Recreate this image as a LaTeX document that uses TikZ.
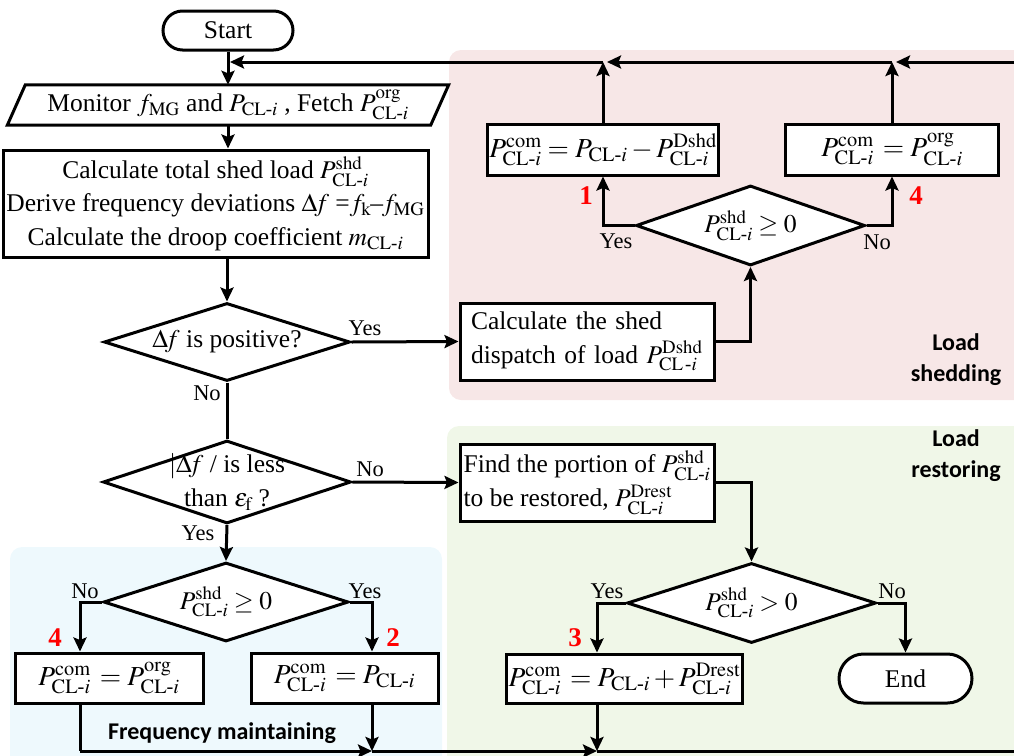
\documentclass[tikz,border=0pt]{standalone}
\usepackage{amsmath}
\usepackage{mathptmx}
\usepackage{fontspec}
\setmainfont{Liberation Serif}
\newfontfamily\labelsans{Carlito}
\usetikzlibrary{shapes.geometric,shapes.misc,arrows.meta,calc}

\definecolor{shedbg}{RGB}{247,231,231}
\definecolor{restbg}{RGB}{240,247,232}
\definecolor{maintbg}{RGB}{238,249,253}

% subscript CL-i and the load power symbols
\newcommand{\cli}{\mathrm{CL}\text{-}i}
\newcommand{\clisp}{\mathrm{CL}\,\text{-}i}
\newcommand{\PCL}[1]{P^{\mathrm{#1}}_{\cli}}
\newcommand{\Pcl}{P_{\cli}}
\newcommand{\df}{\Delta\!f}

\tikzset{
  proc/.style={draw, line width=3pt, fill=white, rectangle, inner sep=2pt, align=center},
  term/.style={draw, line width=3pt, fill=white, rounded rectangle, inner sep=2pt},
  dec/.style={draw, line width=3pt, fill=white, diamond, inner sep=0pt, aspect=3},
  plain/.style={inner sep=0pt, align=center},
  formula/.style={font=\fontsize{27.5}{33}\selectfont},
  arr/.style={line width=3pt, -{Stealth[length=14pt,width=13pt,inset=2.5pt]}},
  link/.style={line width=3pt},
  yn/.style={font=\fontsize{22.5}{26}\selectfont, inner sep=0pt},
  tag/.style={font=\fontsize{27}{28}\selectfont\bfseries, text=red, inner sep=0pt},
  zone/.style={font=\fontsize{24}{31}\selectfont\labelsans\bfseries, align=center, inner sep=0pt},
}

\begin{document}
\begin{tikzpicture}[x=1pt, y=-1pt, font=\fontsize{25.5}{33.5}\selectfont]
\useasboundingbox (0,0) rectangle (1014,755);

% stage backgrounds
\fill[shedbg, rounded corners=12pt] (449,50) rectangle (1040,400);
\fill[restbg, rounded corners=12pt] (447,426) rectangle (1040,780);
\fill[maintbg, rounded corners=12pt] (10,547) rectangle (442,780);

% main column
\node[term, minimum width=134, minimum height=39] (start) at (228,30.5) {Start};
\node[plain, minimum width=441, minimum height=40] (mon) at (228,105)
  {Monitor $f_{\mathrm{MG}}$ and $\Pcl$ , Fetch $\PCL{org}$};
\draw[line width=3pt]
  ($(mon.north west)+(18,0)$) -- (mon.north east) -- ($(mon.south east)-(18,0)$) -- (mon.south west) -- cycle;

\node[proc, minimum width=425, minimum height=107] (calc) at (215.5,203.5)
  {Calculate total shed load $\PCL{shd}$\\
   Derive frequency deviations $\df$ =$f_{\mathrm{k}}$\kern-1pt--\kern-1pt$f_{\mathrm{MG}}$\\
   Calculate the droop coefficient $m_{\cli}$};

\node[dec, minimum width=246, minimum height=78] (d1) at (227,342) {$\df$ is positive?};

\node[dec, minimum width=248, minimum height=83] (d3) at (227,482)
  {\raisebox{-7pt}[0pt][0pt]{\begin{tabular}{@{}c@{}}$|\df$ / is less\\than $\varepsilon_{\mathrm{f}}$ ?\end{tabular}}};

\node[dec, minimum width=245, minimum height=79] (d5) at (226,602) {$\PCL{shd}\geq 0$};

\node[proc, formula, minimum width=188, minimum height=50] (keepL) at (109,678) {$\PCL{com}\,=\PCL{org}$};
\node[proc, formula, minimum width=187, minimum height=50] (keepR) at (344.5,678) {$\PCL{com}\,=\Pcl$};

% load shedding
\node[proc, align=left, minimum width=254, minimum height=77, text width=232] (disp) at (587,341.5)
  {Calculate the shed\\dispatch of load $P^{\mathrm{Dshd}}_{\clisp}$};
\node[dec, minimum width=229, minimum height=80] (d2) at (750.5,225.5) {$\PCL{shd}\geq 0$};
\node[proc, formula, minimum width=226, minimum height=51] (shedA) at (603,149.5) {$\PCL{com}=\Pcl-\PCL{Dshd}$};
\node[proc, formula, minimum width=213, minimum height=51] (shedB) at (892,149.5) {$\PCL{com}\,=\PCL{org}$};

% load restoring
\node[proc, align=left, minimum width=254, minimum height=77] (find) at (587,482.5)
  {Find the portion of $\PCL{shd}$\\to be restored, $\PCL{Drest}$};
\node[dec, minimum width=249, minimum height=80] (d4) at (751.5,603) {$\PCL{shd}>0$};
\node[proc, formula, minimum width=231, minimum height=49] (rest) at (624.5,678.5) {$\PCL{com}\,=\Pcl+\PCL{Drest}$};
\node[term, minimum width=137, minimum height=49] (end) at (905.5,678.5) {End};

% loop junctions
\coordinate (jM) at (228,62);
\coordinate (jA) at (603,62);
\coordinate (jB) at (892,62);
\coordinate (topR) at (1016,62);
\coordinate (bL) at (80,751);
\coordinate (bR1) at (372,751);
\coordinate (bR2) at (597,751);
\coordinate (botR) at (1016,751);

% connectors
\draw[arr] (start.south) -- (start.south |- mon.north);
\draw[arr] (mon.south) -- (mon.south |- calc.north);
\draw[arr] (d1.north |- calc.south) -- (d1.north);
\draw[arr] (d1.east) -- (disp.west);
\draw[arr] (disp.east) -| (d2.south);
\draw[arr] (d2.west) -| (shedA.south);
\draw[arr] (d2.east) -| (shedB.south);
\draw[arr] (shedA.north) -- (jA);
\draw[arr] (shedB.north) -- (jB);
\draw[link] (d1.south) -- (d3.north);
\draw[arr] (d3.east) -- (find.west);
\draw[arr] (find.east) -| (d4.north);
\draw[arr] (d4.west) -| ([xshift=-27.5pt]rest.north);
\draw[arr] (d4.east) -| (end.north);
\draw[arr] (d3.south) -- (d5.north);
\draw[arr] (d5.west) -| ([xshift=-29pt]keepL.north);
\draw[arr] (d5.east) -| ([xshift=27.5pt]keepR.north);

% feedback loop
\draw[link] ([xshift=-29pt]keepL.south) -- (bL);
\draw[arr] (bL) -- (bR1);
\draw[arr] ([xshift=27.5pt]keepR.south) -- (bR1);
\draw[arr] (bR1) -- (bR2);
\draw[arr] ([xshift=-27.5pt]rest.south) -- (bR2);
\draw[link] (bR2) -- (botR) -- (topR);
\draw[arr] (topR) -- ($(jB)+(4,0)$);
\draw[arr] (jB) -- ($(jA)+(4,0)$);
\draw[arr] (jA) -- ($(jM)+(2,0)$);

% branch labels
\node[yn] at (365,328) {Yes};
\node[yn] at (207,393) {No};
\node[yn] at (370,469) {No};
\node[yn] at (198,533) {Yes};
\node[yn] at (616,241) {Yes};
\node[yn] at (877,242) {No};
\node[yn] at (85,591) {No};
\node[yn] at (365,591) {Yes};
\node[yn] at (607,591) {Yes};
\node[yn] at (892,591) {No};

% case numbers
\node[tag] at (586,196) {1};
\node[tag] at (916,196) {4};
\node[tag] at (55,638) {4};
\node[tag] at (393,638) {2};
\node[tag] at (575,638) {3};

% stage titles
\node[zone] at (956,360) {Load\\shedding};
\node[zone] at (956,456) {Load\\restoring};
\node[zone] at (222,733) {Frequency maintaining};
\end{tikzpicture}
\end{document}
